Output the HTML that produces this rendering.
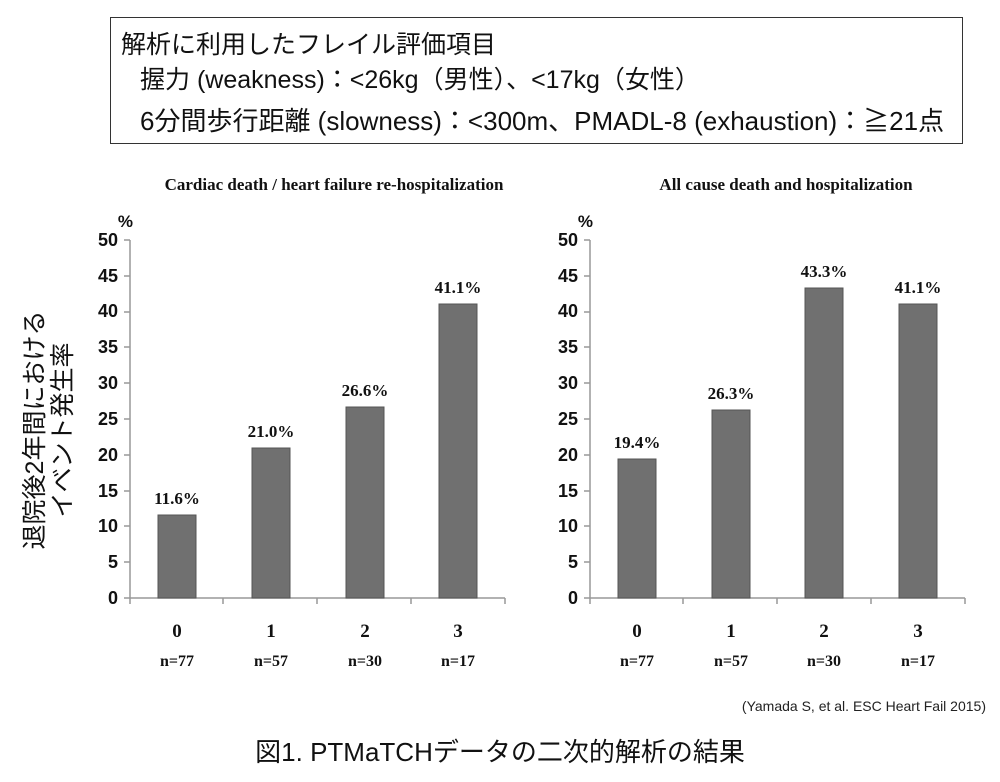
<!DOCTYPE html><html><head><meta charset="utf-8"><style>
body{margin:0;width:1000px;height:782px;background:#fff;position:relative;overflow:hidden;font-family:"Liberation Sans","Noto Sans CJK JP",sans-serif}
.box{position:absolute;left:110px;top:17px;width:853px;height:127px;border:1.5px solid #333;box-sizing:border-box}
.t{position:absolute;font-size:26px;color:#111;white-space:nowrap}
</style></head><body>
<div class="box"></div>
<div class="t" style="left:121px;top:25px;font-size:25px">解析に利用したフレイル評価項目</div>
<div class="t" style="left:140px;top:60px;font-size:25px">握力 (weakness)：&lt;26kg（男性）、&lt;17kg（女性）</div>
<div class="t" style="left:140px;top:101px">6分間歩行距離 (slowness)：&lt;300m、PMADL-8 (exhaustion)：≧21点</div>
<div class="t" style="left:49px;top:430px;transform:translate(-50%,-50%) rotate(-90deg);font-size:25px;line-height:28px;text-align:center">退院後2年間における<br>イベント発生率</div>
<svg width="1000" height="782" style="position:absolute;left:0;top:0" font-family="Liberation Serif,serif" font-weight="bold">
<g font-size="17" text-anchor="middle" fill="#111">
<text x="334" y="190">Cardiac death / heart failure re-hospitalization</text>
<text x="786" y="190">All cause death and hospitalization</text>
</g>
<g font-family="Liberation Sans,sans-serif" font-size="17" text-anchor="end" fill="#111">
<text x="133" y="227">%</text><text x="593" y="227">%</text>
</g>
<g font-family="Liberation Sans,sans-serif" font-size="18" fill="#111" text-anchor="end">
<text x="118" y="246">50</text><text x="118" y="282">45</text><text x="118" y="317">40</text><text x="118" y="353">35</text><text x="118" y="389">30</text><text x="118" y="425">25</text><text x="118" y="461">20</text><text x="118" y="497">15</text><text x="118" y="532">10</text><text x="118" y="568">5</text><text x="118" y="604">0</text>
<text x="578" y="246">50</text><text x="578" y="282">45</text><text x="578" y="317">40</text><text x="578" y="353">35</text><text x="578" y="389">30</text><text x="578" y="425">25</text><text x="578" y="461">20</text><text x="578" y="497">15</text><text x="578" y="532">10</text><text x="578" y="568">5</text><text x="578" y="604">0</text>
</g>
<g stroke="#999" stroke-width="1.5" fill="none">
<path d="M130 240V598H505M124 240H130M124 276H130M124 312H130M124 347H130M124 383H130M124 419H130M124 455H130M124 491H130M124 526H130M124 562H130M124 598H130M223 598V604M317 598V604M411 598V604M505 598V604M130 598V604"/>
<path d="M590 240V598H965M584 240H590M584 276H590M584 312H590M584 347H590M584 383H590M584 419H590M584 455H590M584 491H590M584 526H590M584 562H590M584 598H590M683 598V604M777 598V604M871 598V604M965 598V604M590 598V604"/>
</g>
<g fill="#707070" stroke="#555" stroke-width="1">
<rect x="158" y="515" width="38" height="83"/><rect x="252" y="448" width="38" height="150"/><rect x="346" y="407" width="38" height="191"/><rect x="439" y="304" width="38" height="294"/>
<rect x="618" y="459" width="38" height="139"/><rect x="712" y="410" width="38" height="188"/><rect x="805" y="288" width="38" height="310"/><rect x="899" y="304" width="38" height="294"/>
</g>
<g font-size="17" text-anchor="middle" fill="#111">
<text x="177" y="504">11.6%</text><text x="271" y="437">21.0%</text><text x="365" y="396">26.6%</text><text x="458" y="293">41.1%</text>
<text x="637" y="448">19.4%</text><text x="731" y="399">26.3%</text><text x="824" y="277">43.3%</text><text x="918" y="293">41.1%</text>
</g>
<g font-size="19" text-anchor="middle" fill="#111">
<text x="177" y="637">0</text><text x="271" y="637">1</text><text x="365" y="637">2</text><text x="458" y="637">3</text>
<text x="637" y="637">0</text><text x="731" y="637">1</text><text x="824" y="637">2</text><text x="918" y="637">3</text>
</g>
<g font-size="16" text-anchor="middle" fill="#111">
<text x="177" y="666">n=77</text><text x="271" y="666">n=57</text><text x="365" y="666">n=30</text><text x="458" y="666">n=17</text>
<text x="637" y="666">n=77</text><text x="731" y="666">n=57</text><text x="824" y="666">n=30</text><text x="918" y="666">n=17</text>
</g>
<text x="986" y="711" text-anchor="end" font-family="Liberation Sans,sans-serif" font-weight="normal" font-size="14" fill="#222">(Yamada S, et al. ESC Heart Fail 2015)</text>
<text x="500" y="761" text-anchor="middle" font-family="Liberation Sans,Noto Sans CJK JP,sans-serif" font-weight="normal" font-size="26" fill="#111">図1. PTMaTCHデータの二次的解析の結果</text>
</svg>
</body></html>
